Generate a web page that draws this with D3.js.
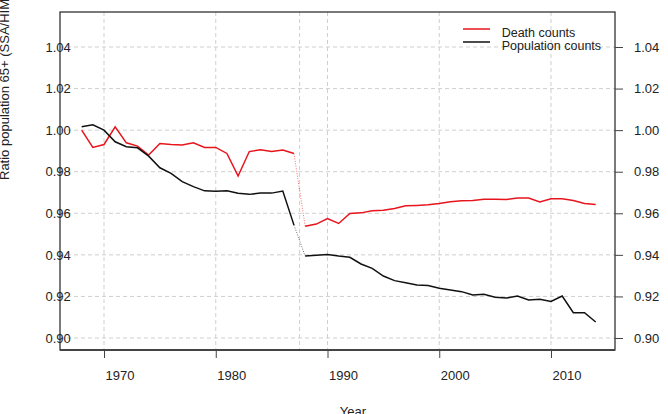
<!DOCTYPE html>
<html>
<head>
<meta charset="utf-8">
<title>Ratio population 65+</title>
<script src="https://d3js.org/d3.v7.min.js"></script>
<style>
  body { margin: 0; background: #fff; }
  svg text { font-family: "Liberation Sans", Arial, sans-serif; font-size: 13px; fill: #222; }
</style>
</head>
<body>
<div id="chart"></div>
<script>
// values
var years = d3.range(1968, 2015);
var deathRatio = [
  1.0000, 0.9917, 0.9931, 1.0016, 0.9939, 0.9923, 0.9880, 0.9936, 0.9931, 0.9928,
  0.9939, 0.9917, 0.9917, 0.9888, 0.9779, 0.9897, 0.9906, 0.9897, 0.9904, 0.9888,
  0.9538, 0.9548, 0.9575, 0.9551, 0.9599, 0.9602, 0.9612, 0.9615, 0.9623, 0.9636,
  0.9638, 0.9641, 0.9647, 0.9655, 0.9660, 0.9661, 0.9668, 0.9668, 0.9666, 0.9673,
  0.9673, 0.9655, 0.9670, 0.9670, 0.9661, 0.9647, 0.9642
];
var popRatio = [
  1.0016, 1.0026, 1.0000, 0.9944, 0.9920, 0.9915, 0.9875, 0.9819, 0.9792, 0.9752,
  0.9728, 0.9708, 0.9706, 0.9708, 0.9696, 0.9691, 0.9697, 0.9697, 0.9707, 0.9543,
  0.9394, 0.9398, 0.9402, 0.9394, 0.9388, 0.9356, 0.9335, 0.9298, 0.9276, 0.9266,
  0.9255, 0.9252, 0.9239, 0.9231, 0.9223, 0.9207, 0.9210, 0.9196, 0.9192, 0.9202,
  0.9183, 0.9186, 0.9176, 0.9202, 0.9122, 0.9122, 0.9077
];
var breakYear = 1987;           // dotted join between 1987 and 1988
var xTicks = [1970, 1980, 1990, 2000, 2010];
var yTicks = [0.90, 0.92, 0.94, 0.96, 0.98, 1.00, 1.02, 1.04];
var seriesNames = ["Death counts", "Population counts"];
var seriesColors = ["#e8141c", "#111111"];

var width = 668, height = 414;
var box = {left: 60, right: 615, top: 12, bottom: 350};

var x = d3.scaleLinear().domain([1968, 2014]).range([81.65, 595.7]);
var y = d3.scaleLinear().domain([0.90, 1.04]).range([338, 47]);

var svg = d3.select("#chart").append("svg")
  .attr("width", width)
  .attr("height", height);

// grid
var grid = svg.append("g").attr("class", "grid")
  .attr("stroke", "#cfcfcf").attr("stroke-dasharray", "4,3").attr("stroke-width", 1);
grid.selectAll("line.h").data(yTicks).enter().append("line")
  .attr("x1", box.left).attr("x2", box.right)
  .attr("y1", function(d) { return y(d); }).attr("y2", function(d) { return y(d); });
grid.selectAll("line.v").data(xTicks.concat([breakYear + 0.5])).enter().append("line")
  .attr("y1", box.top).attr("y2", box.bottom)
  .attr("x1", function(d) { return x(d); }).attr("x2", function(d) { return x(d); });

// lines
var rows = [deathRatio, popRatio].map(function(vals) {
  return years.map(function(yr, i) { return {year: yr, v: vals[i]}; });
});
var line = d3.line().x(function(d) { return x(d.year); }).y(function(d) { return y(d.v); });

rows.forEach(function(r, k) {
  var before = r.filter(function(d) { return d.year <= breakYear; });
  var after = r.filter(function(d) { return d.year >= breakYear + 1; });
  var join = r.filter(function(d) { return d.year == breakYear || d.year == breakYear + 1; });
  [before, after].forEach(function(part) {
    svg.append("path").datum(part)
      .attr("d", line)
      .attr("fill", "none")
      .attr("stroke", seriesColors[k])
      .attr("stroke-width", 1.5);
  });
  svg.append("path").datum(join)
    .attr("d", line)
    .attr("fill", "none")
    .attr("stroke", seriesColors[k])
    .attr("stroke-opacity", 0.6)
    .attr("stroke-dasharray", "1,1.5")
    .attr("stroke-width", 1);
});

// box
svg.append("rect")
  .attr("x", box.left).attr("y", box.top)
  .attr("width", box.right - box.left).attr("height", box.bottom - box.top)
  .attr("fill", "none").attr("stroke", "#222").attr("stroke-width", 1.2);

// axes
var bottomAxis = svg.append("g")
  .attr("transform", "translate(0," + box.bottom + ")")
  .call(d3.axisBottom(x).tickValues(xTicks).tickFormat(d3.format("d")).tickSize(8).tickPadding(13));
bottomAxis.select(".domain").attr("d", "M" + box.left + ",0H" + box.right).attr("stroke", "#444").attr("stroke-width", 2);
bottomAxis.selectAll(".tick line").attr("stroke", "#444");
bottomAxis.selectAll(".tick text").attr("dx", 15.5);

var leftAxis = svg.append("g")
  .attr("transform", "translate(" + box.left + ",0)")
  .call(d3.axisLeft(y).tickValues(yTicks).tickFormat(d3.format(".2f")).tickSize(0));
leftAxis.select(".domain").remove();
// labels sit over the left frame line, as in the reference
leftAxis.selectAll(".tick text").attr("x", -14.5).attr("text-anchor", "start");

var rightAxis = svg.append("g")
  .attr("transform", "translate(" + box.right + ",0)")
  .call(d3.axisRight(y).tickValues(yTicks).tickFormat(d3.format(".2f")).tickSize(8).tickPadding(11));
rightAxis.select(".domain").remove();
rightAxis.selectAll(".tick line").attr("stroke", "#444");

svg.selectAll(".tick text").style("font-size", "13px").style("font-family", "Liberation Sans, Arial, sans-serif").attr("fill", "#222");

// axis titles
svg.append("text")
  .attr("x", 353).attr("y", 416)
  .attr("text-anchor", "middle")
  .text("Year");
svg.append("text")
  .attr("transform", "translate(9,180) rotate(-90)")
  .attr("text-anchor", "start")
  .text("Ratio population 65+ (SSA/HIM)");

// legend
var legend = svg.append("g").attr("class", "legend");
seriesNames.forEach(function(name, i) {
  var ly = 29 + i * 13;
  legend.append("line")
    .attr("x1", 463).attr("x2", 490).attr("y1", ly).attr("y2", ly)
    .attr("stroke", seriesColors[i]).attr("stroke-width", 1.5);
  legend.append("text")
    .attr("x", 501.7).attr("y", ly + 7.5)
    .style("font-size", "12.5px")
    .text(name);
});
</script>
</body>
</html>
